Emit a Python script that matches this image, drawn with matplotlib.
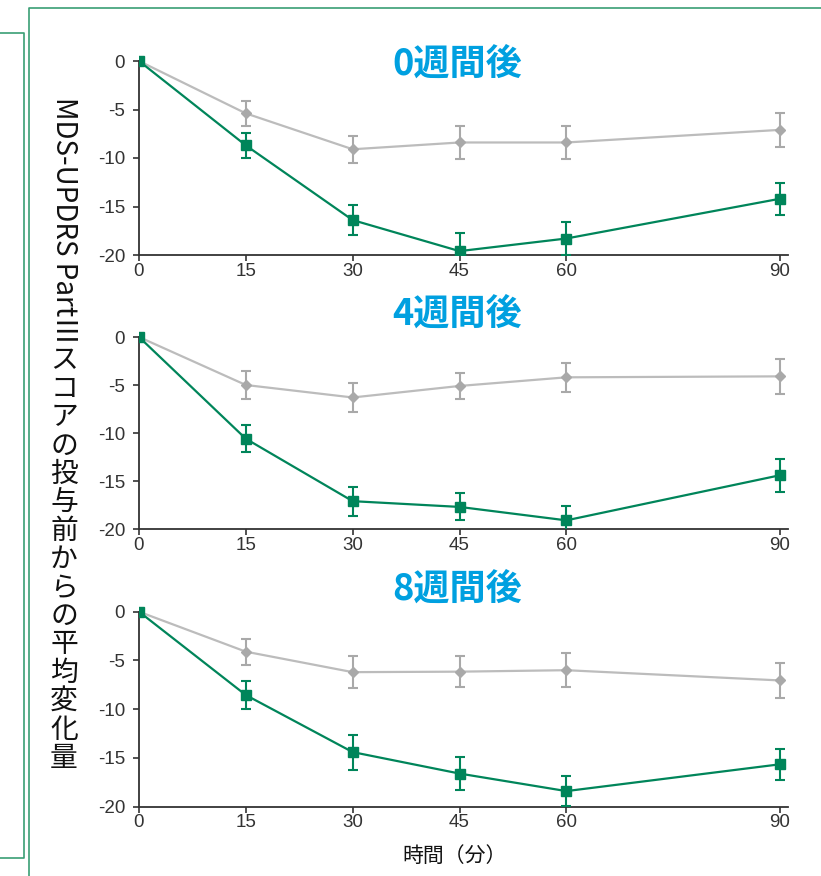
import numpy as np
import matplotlib
matplotlib.use('Agg')
from matplotlib import pyplot as plt
from matplotlib.lines import Line2D

# time points (min)
times = [0, 15, 30, 45, 60, 90]
xticks = [0, 15, 30, 45, 60, 90]
yticks = [0, -5, -10, -15, -20]

titles = ['0週間後', '4週間後', '8週間後']

# grey series mean change and error
gray_0w = [0, -5.4, -9.1, -8.4, -8.4, -7.1]
gray_0w_err = [0, 1.3, 1.4, 1.7, 1.75, 1.75]
gray_4w = [0, -5.0, -6.3, -5.1, -4.2, -4.1]
gray_4w_err = [0, 1.45, 1.55, 1.4, 1.5, 1.8]
gray_8w = [0, -4.1, -6.2, -6.15, -6.0, -7.05]
gray_8w_err = [0, 1.35, 1.65, 1.6, 1.75, 1.75]

# green series mean change and error
green_0w = [0, -8.7, -16.4, -19.6, -18.3, -14.2]
green_0w_err = [0, 1.3, 1.55, 1.9, 1.75, 1.65]
green_4w = [0, -10.6, -17.1, -17.7, -19.1, -14.4]
green_4w_err = [0, 1.4, 1.5, 1.4, 1.45, 1.7]
green_8w = [0, -8.55, -14.4, -16.6, -18.4, -15.65]
green_8w_err = [0, 1.4, 1.8, 1.7, 1.55, 1.6]

ylabel_latin = 'MDS-UPDRS PartⅢ'
ylabel_jp = 'スコアの投与前からの平均変化量'
xlabel = '時間（分）'

GREEN = '#00855a'
GRAY_LINE = '#bcbcbc'
GRAY_MK = '#a9a9a9'
BLUE = '#00a0e0'
FRAME = '#3a9e74'
JP = ['Noto Sans CJK JP', 'DejaVu Sans']
NUM = ['Liberation Sans Narrow', 'Liberation Sans', 'DejaVu Sans']

W, H = 821, 876
fig = plt.figure(figsize=(W/100, H/100), dpi=100)

def fx(px):
    return px/W

def fy(py):
    return 1 - py/H

# pixel rows of y=0 and y=-20 for each panel
boxes = [(61, 255), (337, 529), (611.7, 806.7)]
left_px, right_px = 139, 788
xmax = 90 + (right_px - 780)*90/(780 - 139)
ytop = 0.6

gray_sets = [(gray_0w, gray_0w_err), (gray_4w, gray_4w_err), (gray_8w, gray_8w_err)]
green_sets = [(green_0w, green_0w_err), (green_4w, green_4w_err), (green_8w, green_8w_err)]
title_y = [64, 314, 589]

for i in range(3):
    top, bot = boxes[i]
    top = top - ytop*(bot - top)/20.0
    ax = fig.add_axes([fx(left_px), fy(bot), fx(right_px - left_px), (bot - top)/H])
    g, ge = gray_sets[i]
    ax.errorbar(times, g, yerr=ge, color=GRAY_LINE, lw=1.6, ecolor=GRAY_MK, elinewidth=1.5,
                capsize=3.5, capthick=1.5, marker='D', ms=5, mfc=GRAY_MK, mec=GRAY_MK, zorder=3)
    gr, gre = green_sets[i]
    ax.errorbar(times, gr, yerr=gre, color=GREEN, lw=1.6, ecolor=GREEN, elinewidth=1.5,
                capsize=3.5, capthick=1.5, marker='s', ms=7, mfc=GREEN, mec=GREEN, zorder=4)
    ax.set_xlim(0, xmax)
    ax.set_ylim(-20, ytop)
    ax.spines['top'].set_visible(False)
    ax.spines['right'].set_visible(False)
    ax.spines['left'].set_bounds(-20, 0)
    ax.spines['left'].set_color('#333333')
    ax.spines['bottom'].set_color('#333333')
    ax.spines['left'].set_linewidth(1.3)
    ax.spines['bottom'].set_linewidth(1.3)
    ax.set_xticks(xticks)
    ax.set_yticks(yticks)
    ax.set_xticklabels([str(t) for t in xticks])
    ax.set_yticklabels([str(t) for t in yticks])
    ax.tick_params(axis='both', direction='out', length=4, width=1.2, color='#333333',
                   labelcolor='#333333', labelsize=13.5)
    ax.tick_params(axis='x', pad=1.5)
    ax.tick_params(axis='y', pad=6)
    for lab in ax.get_xticklabels() + ax.get_yticklabels():
        lab.set_family(NUM)
    fig.text(fx(457), fy(title_y[i]), titles[i], family=JP, weight='bold', color=BLUE,
             fontsize=26, ha='center', va='center')

# x label
fig.text(fx(455), fy(856), xlabel, family=JP, fontsize=15, ha='center', va='center', color='#111111')

# vertical y label: latin part rotated, japanese chars upright
fs = 20
lat = fig.text(fx(64), fy(97), ylabel_latin, family=JP, fontsize=fs, rotation=270,
               ha='center', va='top', color='#111111')
fig.canvas.draw()
bb = lat.get_window_extent(fig.canvas.get_renderer())
ypos = H - bb.y0 + 2
pitch = 28.4
for ch in ylabel_jp:
    fig.text(fx(64), fy(ypos + pitch/2), ch, family=JP, fontsize=fs, ha='center', va='center',
             color='#111111')
    ypos += pitch

# frames
fig.add_artist(Line2D([fx(0), fx(24), fx(24), fx(0)], [fy(33), fy(33), fy(858), fy(858)],
                      color=FRAME, lw=1.2))
fig.add_artist(Line2D([fx(821), fx(29), fx(29)], [fy(8), fy(8), fy(876)], color=FRAME, lw=1.2))

fig.savefig('out.png', dpi=100)
